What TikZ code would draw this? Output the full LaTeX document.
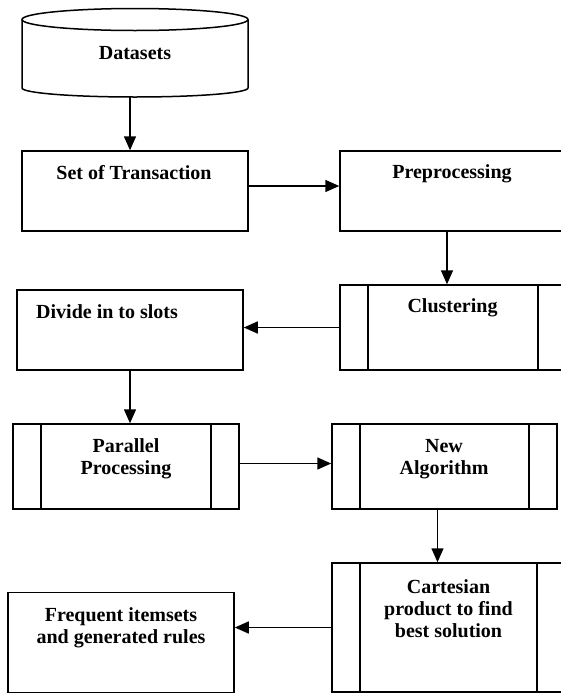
\documentclass[tikz,border=0pt]{standalone}
\usepackage{fontspec}
\setmainfont{Liberation Serif}
\usepackage{tikz}
\usetikzlibrary{arrows.meta}

\tikzset{
  box/.style={draw, rectangle, line width=1.5pt, inner sep=0pt},
  proc/.style={box, path picture={
    \draw[line width=1.5pt] ([xshift=28pt]path picture bounding box.north west) -- ([xshift=28pt]path picture bounding box.south west);
    \draw[line width=1.5pt] ([xshift=-28pt]path picture bounding box.north east) -- ([xshift=-28pt]path picture bounding box.south east);}},
  txt/.style={font=\bfseries\fontsize{20}{22}\selectfont, align=center, inner sep=0pt},
  arr/.style={line width=1.5pt, -{Triangle[length=14pt,width=12pt]}}
}

\begin{document}
\begin{tikzpicture}[x=1pt,y=-1pt]
\useasboundingbox (0,0) rectangle (561,694);
\clip (0,0) rectangle (561,694);

% datasets drum
\draw[line width=1.5pt] (22,19.5) -- (22,88) arc[start angle=180, end angle=360, x radius=113pt, y radius=9pt] -- (248,19.5);
\draw[line width=1.5pt] (135,19.5) ellipse [x radius=113pt, y radius=11pt];
\node[inner sep=0pt, minimum width=226pt, minimum height=89pt] (ds) at (135,52.5) {};

% boxes
\node[box, minimum width=226pt, minimum height=80pt] (st) at (135,191) {};
\node[box, minimum width=226pt, minimum height=80pt] (pp) at (453,191) {};
\node[proc, minimum width=226pt, minimum height=85pt] (cl) at (453,327.5) {};
\node[box, minimum width=226pt, minimum height=80pt] (dv) at (130,330) {};
\node[proc, minimum width=226pt, minimum height=85pt] (pl) at (126,466.5) {};
\node[proc, minimum width=225pt, minimum height=85pt] (na) at (444.5,466.5) {};
\node[proc, minimum width=233pt, minimum height=129pt] (ca) at (448.5,627.5) {};
\node[box, minimum width=226pt, minimum height=100pt] (fq) at (121,642.5) {};

% texts
\node[txt] (t-ds) at (135,53) {Datasets};
\node[txt] (t-st) at (134,173) {Set of Transaction};
\node[txt] (t-pp) at (452,174) {Preprocessing};
\node[txt] (t-cl) at (452.5,308) {Clustering};
\node[txt, anchor=west] (t-dv) at (36,312) {Divide in to slots};
\node[txt] (t-pl) at (126,458.5) {Parallel\\Processing};
\node[txt] (t-na) at (444,459) {New\\Algorithm};
\node[txt] (t-ca) at (448.5,608.5) {Cartesian\\product to find\\best solution};
\node[txt] (t-fq) at (121,627.5) {Frequent itemsets\\and generated rules};

% connectors
\draw[arr] ([xshift=-5pt]ds.south) -- ([xshift=-5pt]st.north);
\draw[arr] ([yshift=5pt]st.east) -- ([yshift=5pt]st.east -| pp.west);
\draw[arr] ([xshift=-6pt]pp.south) -- ([xshift=-6pt]pp.south |- cl.north);
\draw[arr] (cl.west) -- (cl.west -| dv.east);
\draw[arr] (dv.south) -- (dv.south |- pl.north);
\draw[arr] ([yshift=3pt]pl.east) -- ([yshift=3pt]pl.east -| na.west);
\draw[arr] ([xshift=-7pt]na.south) -- ([xshift=-7pt]na.south |- ca.north);
\draw[arr] (ca.west) -- (ca.west -| fq.east);
\end{tikzpicture}
\end{document}
